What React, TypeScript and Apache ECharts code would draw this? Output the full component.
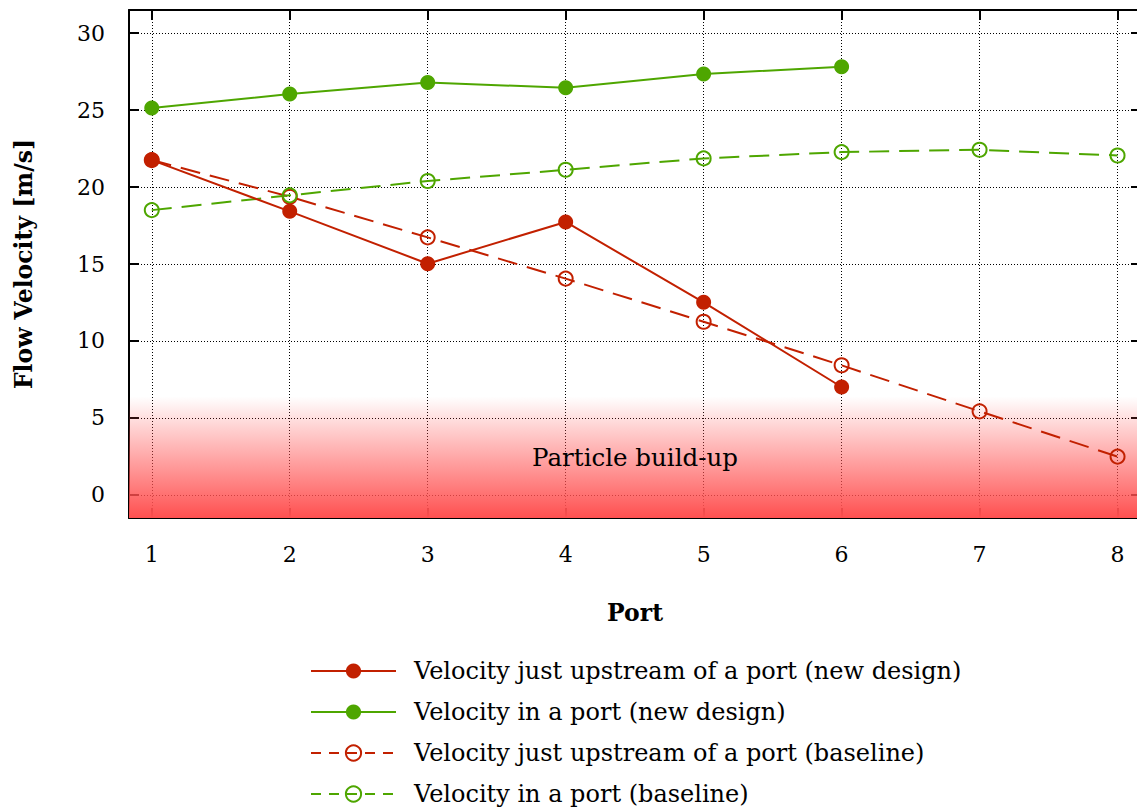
import React, { useEffect, useRef } from "react";
import * as echarts from "echarts";

const ports = [1, 2, 3, 4, 5, 6, 7, 8];
const upstreamNew = [21.75, 18.42, 15.02, 17.73, 12.51, 7.01];
const inPortNew = [25.13, 26.04, 26.79, 26.45, 27.34, 27.81];
const upstreamBase = [21.75, 19.37, 16.73, 14.05, 11.25, 8.42, 5.43, 2.49];
const inPortBase = [18.5, 19.46, 20.39, 21.12, 21.86, 22.27, 22.42, 22.05];
const xTicks = [1, 2, 3, 4, 5, 6, 7, 8];
const yTicks = [0, 5, 10, 15, 20, 25, 30];
const seriesNames = [
  "Velocity just upstream of a port (new design)",
  "Velocity in a port (new design)",
  "Velocity just upstream of a port (baseline)",
  "Velocity in a port (baseline)",
];
const buildUpRange = [-1.5, 6.4];
const buildUpLabel = "Particle build-up";
const xTitle = "Port";
const yTitle = "Flow Velocity [m/s]";

const RED = "#c22000";
const GREEN = "#4ea600";
const FONT = "DejaVu Serif";

function pts(vals: number[]) {
  return vals.map((v, i) => [ports[i], v]);
}

export default function App() {
  const ref = useRef<HTMLDivElement>(null);
  useEffect(() => {
    if (!ref.current) return;
    const chart = echarts.init(ref.current, undefined, { renderer: "svg" });
    const xMin = 0.835;
    const xMax = 8.17;
    const yMin = -1.5;
    const yMax = 31.5;
    const axisLine = { show: true, onZero: false, lineStyle: { color: "#000", width: 2 } };
    const tickStyle = { color: "#000", width: 2 };
    const split = { show: true, lineStyle: { color: "#000", width: 1, type: [1, 2] } };
    const labelStyle = { fontSize: 22, fontFamily: FONT, color: "#000" };
    const titleStyle = { fontSize: 23.5, fontFamily: FONT, fontWeight: "bold", color: "#000" };
    const solid = (name: string, color: string, vals: number[]) => ({
      name,
      type: "line",
      data: pts(vals),
      symbol: "circle",
      symbolSize: 15,
      itemStyle: { color },
      lineStyle: { color, width: 2 },
      z: 3,
    });
    const dashed = (name: string, color: string, vals: number[]) => ({
      name,
      type: "line",
      data: pts(vals),
      symbol: "circle",
      symbolSize: 14,
      itemStyle: { color: "rgba(0,0,0,0)", borderColor: color, borderWidth: 2 },
      lineStyle: { color, width: 2, type: [20, 10] },
      z: 2,
    });
    chart.setOption({
      animation: false,
      backgroundColor: "#fff",
      grid: { left: 129, top: 10, width: 1012, height: 508, containLabel: false },
      xAxis: [
        {
          type: "value",
          min: xMin,
          max: xMax,
          position: "bottom",
          axisLine,
          axisTick: { show: true, inside: true, length: 10, lineStyle: tickStyle, customValues: xTicks },
          axisLabel: { ...labelStyle, customValues: xTicks, margin: 25 },
          splitLine: split,
          name: xTitle,
          nameLocation: "middle",
          nameGap: 83,
          nameTextStyle: titleStyle,
        },
        {
          type: "value",
          min: xMin,
          max: xMax,
          position: "top",
          axisLine,
          axisTick: { show: true, inside: true, length: 10, lineStyle: tickStyle, customValues: xTicks },
          axisLabel: { show: false },
          splitLine: { show: false },
        },
      ],
      yAxis: [
        {
          type: "value",
          min: yMin,
          max: yMax,
          position: "left",
          axisLine,
          axisTick: { show: true, inside: true, length: 10, lineStyle: tickStyle, customValues: yTicks },
          axisLabel: { ...labelStyle, customValues: yTicks, margin: 24 },
          splitLine: split,
          name: yTitle,
          nameLocation: "middle",
          nameGap: 93,
          nameTextStyle: titleStyle,
        },
        {
          type: "value",
          min: yMin,
          max: yMax,
          position: "right",
          axisLine,
          axisTick: { show: true, inside: true, length: 10, lineStyle: tickStyle, customValues: yTicks },
          axisLabel: { show: false },
          splitLine: { show: false },
        },
      ],
      legend: {
        orient: "vertical",
        left: 310,
        top: 659,
        padding: 0,
        itemWidth: 85,
        itemHeight: 19,
        itemGap: 17,
        textStyle: { fontSize: 24, fontFamily: FONT, color: "#000", padding: [0, 0, 0, 13] },
        data: [
          { name: seriesNames[0] },
          { name: seriesNames[1] },
          { name: seriesNames[2], lineStyle: { type: [10, 8] } },
          { name: seriesNames[3], lineStyle: { type: [10, 8] } },
        ],
      },
      series: [
        {
          name: "buildup",
          type: "line",
          data: [],
          z: -1,
          silent: true,
          markArea: {
            silent: true,
            itemStyle: {
              color: {
                type: "linear",
                x: 0,
                y: 0,
                x2: 0,
                y2: 1,
                colorStops: [
                  { offset: 0, color: "rgba(255,80,80,0)" },
                  { offset: 1, color: "rgba(255,80,80,1)" },
                ],
              },
            },
            label: {
              show: true,
              position: "inside",
              formatter: buildUpLabel,
              fontSize: 24.5,
              fontFamily: FONT,
              color: "#000",
            },
            data: [[{ xAxis: "min", yAxis: buildUpRange[0] }, { xAxis: "max", yAxis: buildUpRange[1] }]],
          },
        },
        dashed(seriesNames[2], RED, upstreamBase),
        dashed(seriesNames[3], GREEN, inPortBase),
        solid(seriesNames[0], RED, upstreamNew),
        solid(seriesNames[1], GREEN, inPortNew),
      ],
    });
    return () => chart.dispose();
  }, []);
  return (
    <div
      style={{
        position: "absolute",
        left: 0,
        top: 0,
        width: 1137,
        height: 811,
        overflow: "hidden",
      }}
    >
      <div ref={ref} style={{ width: 1145, height: 811 }} />
    </div>
  );
}
